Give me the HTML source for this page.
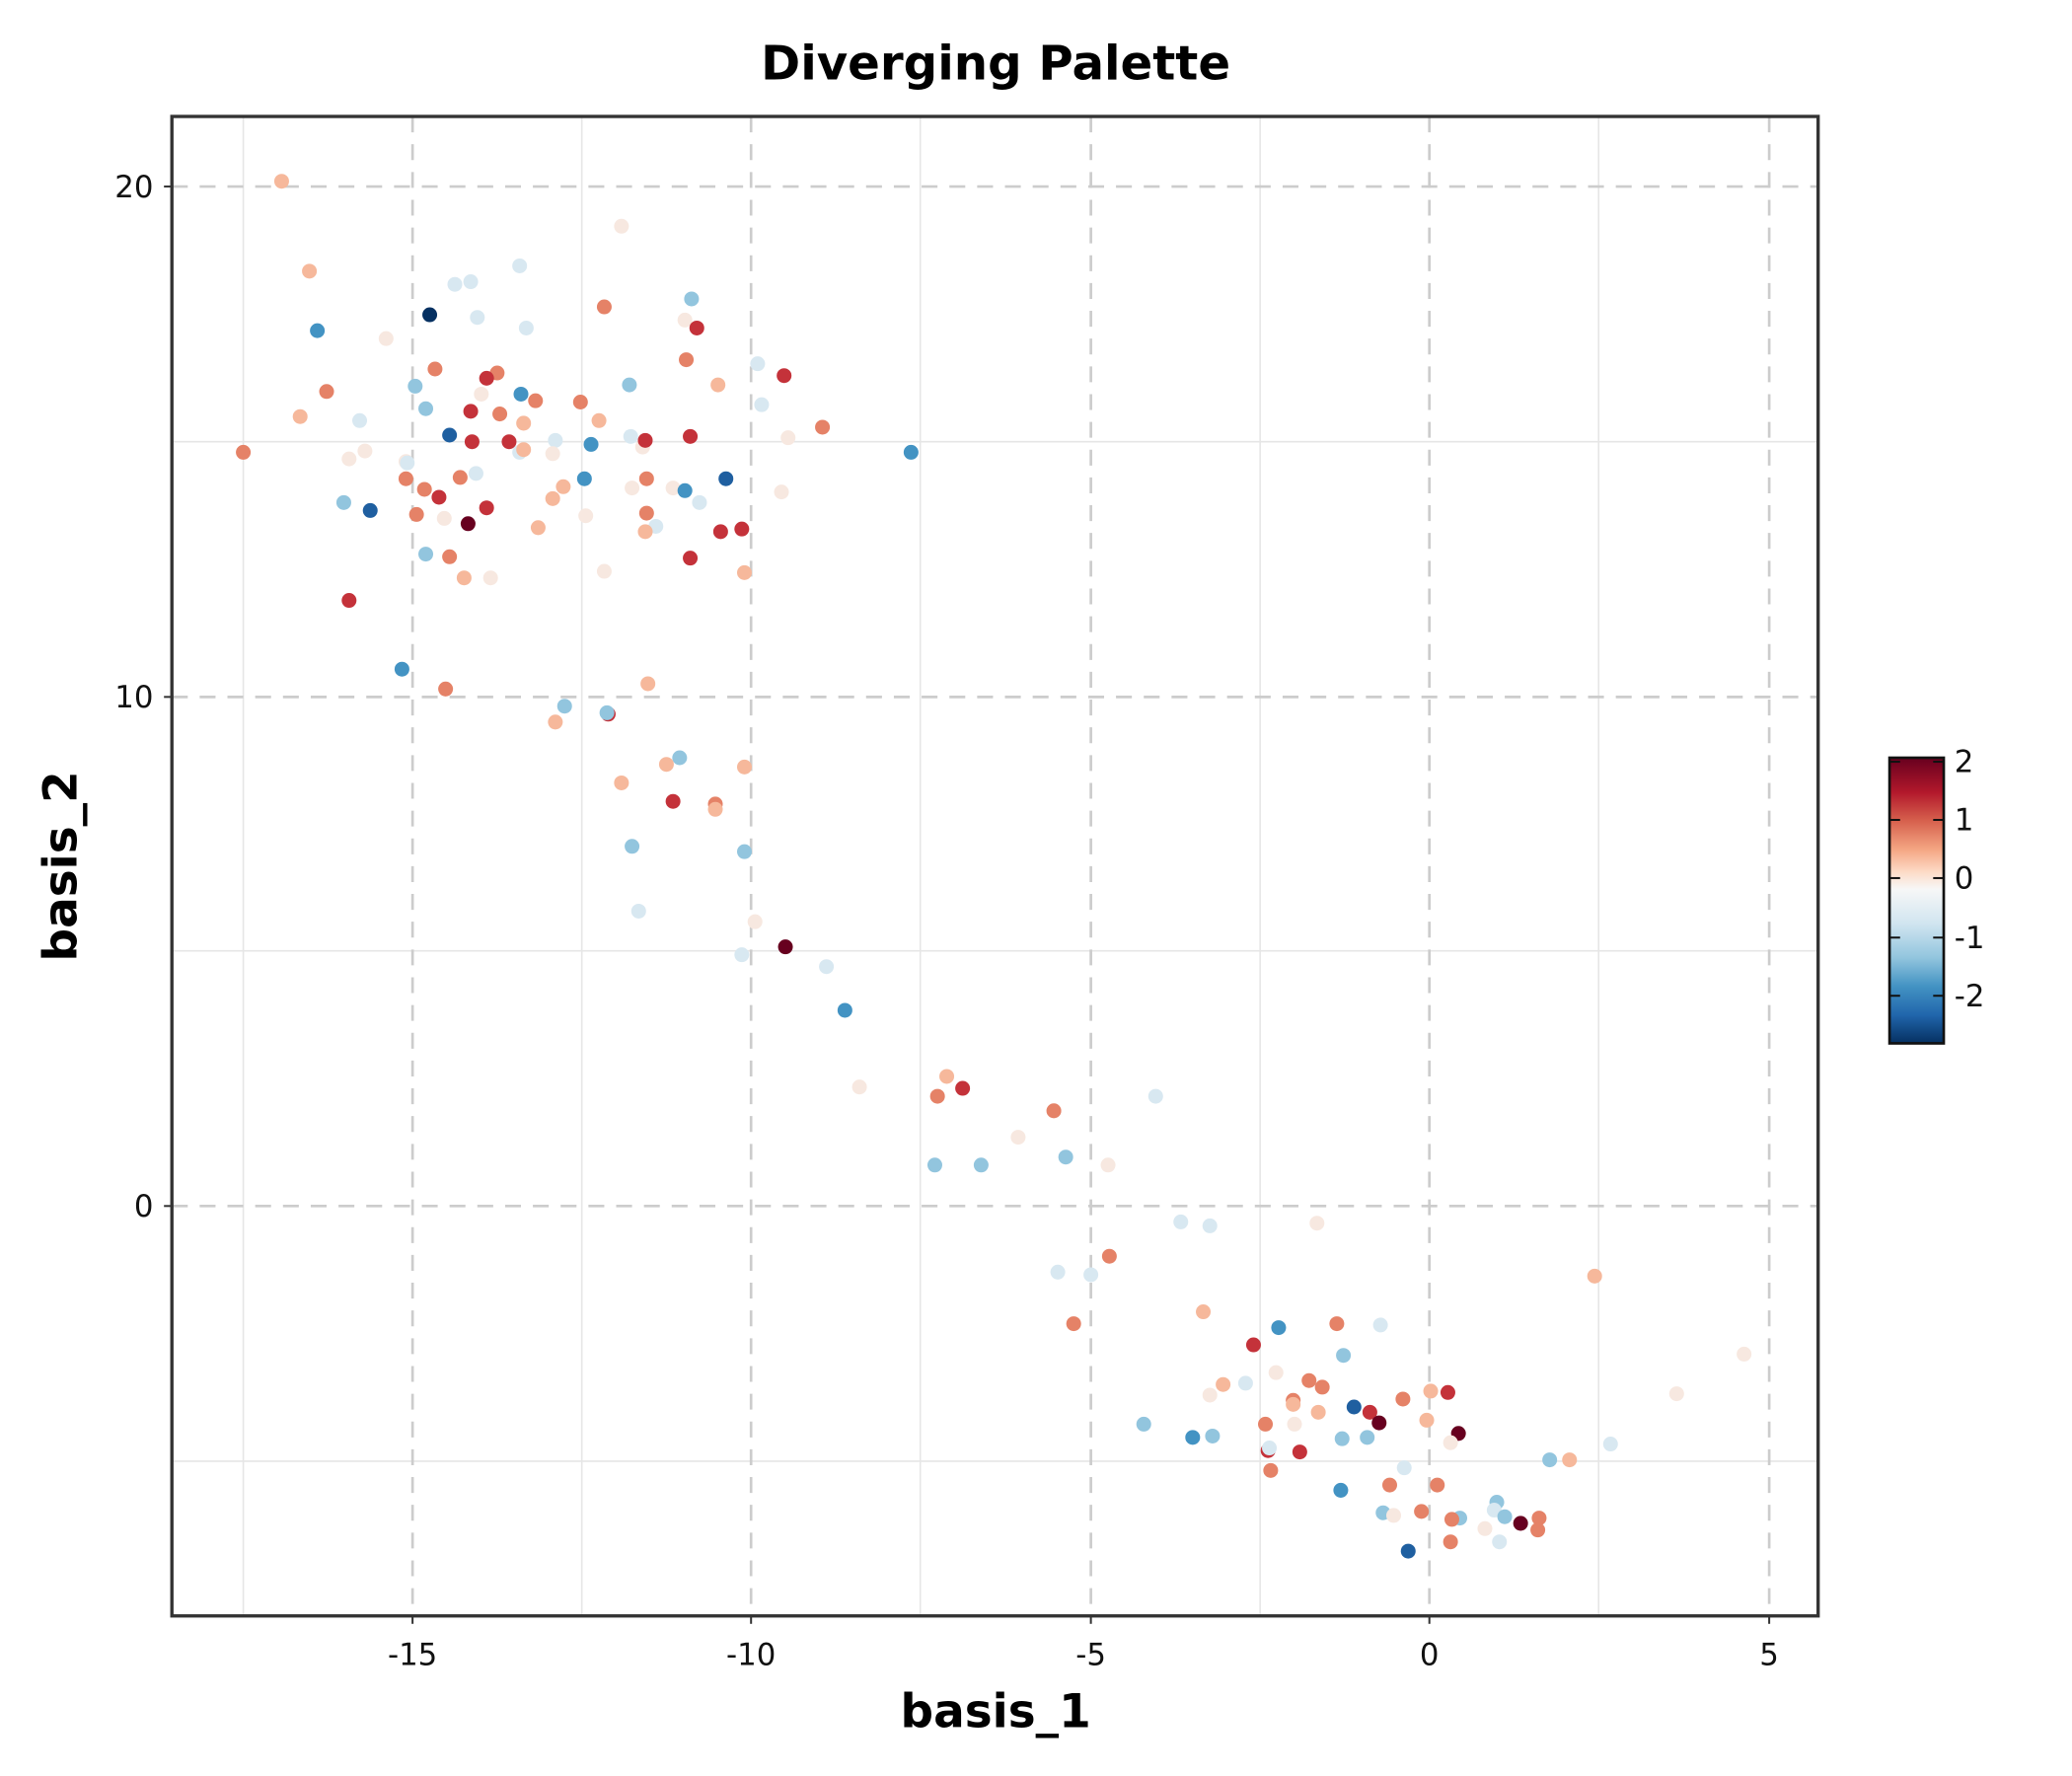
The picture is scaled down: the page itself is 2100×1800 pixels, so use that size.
<!DOCTYPE html>
<html><head><meta charset="utf-8"><style>html,body{margin:0;padding:0;background:#fff}svg{display:block}
.D{fill:#67001f}.R{fill:#c4323a}.O{fill:#e58267}.P{fill:#f6b89b}.W{fill:#f7e8e0}.L{fill:#d8e8f1}.B{fill:#92c5de}.M{fill:#4393c3}.N{fill:#1f5fa0}.K{fill:#053061}
</style></head>
<body>
<svg xmlns="http://www.w3.org/2000/svg" width="2100" height="1800" viewBox="0 0 1567 1343" font-family="'DejaVu Sans','Liberation Sans',sans-serif">
<defs>
<linearGradient id="cb" x1="0" y1="0" x2="0" y2="1">
<stop offset="0" stop-color="#67001f"/><stop offset="0.12" stop-color="#b2182b"/><stop offset="0.22" stop-color="#d6604d"/><stop offset="0.32" stop-color="#f4a582"/><stop offset="0.4" stop-color="#fddbc7"/><stop offset="0.46" stop-color="#f7f7f7"/><stop offset="0.58" stop-color="#d1e5f0"/><stop offset="0.7" stop-color="#92c5de"/><stop offset="0.8" stop-color="#4393c3"/><stop offset="0.9" stop-color="#2166ac"/><stop offset="1" stop-color="#053061"/>
</linearGradient>
</defs>
<rect width="1567" height="1343" fill="#fff"/>
<g stroke="#e6e6e6" stroke-width="1.2">
<line x1="184" y1="88" x2="184" y2="1222"/><line x1="440" y1="88" x2="440" y2="1222"/><line x1="696" y1="88" x2="696" y2="1222"/><line x1="953" y1="88" x2="953" y2="1222"/><line x1="1209" y1="88" x2="1209" y2="1222"/>
<line x1="130" y1="334" x2="1375" y2="334"/><line x1="130" y1="719" x2="1375" y2="719"/><line x1="130" y1="1105" x2="1375" y2="1105"/>
</g>
<g stroke="#cccccc" stroke-width="2" stroke-dasharray="12,9">
<line x1="312" y1="88" x2="312" y2="1222"/><line x1="568" y1="88" x2="568" y2="1222"/><line x1="825" y1="88" x2="825" y2="1222"/><line x1="1081" y1="88" x2="1081" y2="1222"/><line x1="1338" y1="88" x2="1338" y2="1222"/>
<line x1="130" y1="141" x2="1375" y2="141"/><line x1="130" y1="527" x2="1375" y2="527"/><line x1="130" y1="912" x2="1375" y2="912"/>
</g>
<g>
<circle cx="213" cy="137" r="5.6" class="P"/><circle cx="470" cy="171" r="5.6" class="W"/><circle cx="234" cy="205" r="5.6" class="P"/><circle cx="393" cy="201" r="5.6" class="L"/><circle cx="344" cy="215" r="5.6" class="L"/><circle cx="356" cy="213" r="5.6" class="L"/><circle cx="523" cy="226" r="5.6" class="B"/><circle cx="240" cy="250" r="5.6" class="M"/><circle cx="325" cy="238" r="5.6" class="K"/><circle cx="361" cy="240" r="5.6" class="L"/><circle cx="457" cy="232" r="5.6" class="O"/><circle cx="518" cy="242" r="5.6" class="W"/><circle cx="527" cy="248" r="5.6" class="R"/><circle cx="398" cy="248" r="5.6" class="L"/><circle cx="292" cy="256" r="5.6" class="W"/><circle cx="573" cy="275" r="5.6" class="L"/><circle cx="329" cy="279" r="5.6" class="O"/><circle cx="519" cy="272" r="5.6" class="O"/><circle cx="593" cy="284" r="5.6" class="R"/><circle cx="247" cy="296" r="5.6" class="O"/><circle cx="314" cy="292" r="5.6" class="B"/><circle cx="364" cy="298" r="5.6" class="W"/><circle cx="394" cy="298" r="5.6" class="M"/><circle cx="476" cy="291" r="5.6" class="B"/><circle cx="543" cy="291" r="5.6" class="P"/><circle cx="376" cy="282" r="5.6" class="O"/><circle cx="368" cy="286" r="5.6" class="R"/><circle cx="439" cy="304" r="5.6" class="O"/><circle cx="322" cy="309" r="5.6" class="B"/><circle cx="405" cy="303" r="5.6" class="O"/><circle cx="576" cy="306" r="5.6" class="L"/><circle cx="356" cy="311" r="5.6" class="R"/><circle cx="378" cy="313" r="5.6" class="O"/><circle cx="227" cy="315" r="5.6" class="P"/><circle cx="272" cy="318" r="5.6" class="L"/><circle cx="453" cy="318" r="5.6" class="P"/><circle cx="396" cy="320" r="5.6" class="P"/><circle cx="622" cy="323" r="5.6" class="O"/><circle cx="340" cy="329" r="5.6" class="N"/><circle cx="357" cy="334" r="5.6" class="R"/><circle cx="420" cy="333" r="5.6" class="L"/><circle cx="477" cy="330" r="5.6" class="L"/><circle cx="522" cy="330" r="5.6" class="R"/><circle cx="596" cy="331" r="5.6" class="W"/><circle cx="184" cy="342" r="5.6" class="O"/><circle cx="264" cy="347" r="5.6" class="W"/><circle cx="276" cy="341" r="5.6" class="W"/><circle cx="385" cy="334" r="5.6" class="R"/><circle cx="393" cy="342" r="5.6" class="L"/><circle cx="396" cy="340" r="5.6" class="P"/><circle cx="418" cy="343" r="5.6" class="W"/><circle cx="486" cy="338" r="5.6" class="W"/><circle cx="488" cy="333" r="5.6" class="R"/><circle cx="447" cy="336" r="5.6" class="M"/><circle cx="689" cy="342" r="5.6" class="M"/><circle cx="307" cy="349" r="5.6" class="W"/><circle cx="308" cy="350" r="5.6" class="L"/><circle cx="360" cy="358" r="5.6" class="L"/><circle cx="348" cy="361" r="5.6" class="O"/><circle cx="442" cy="362" r="5.6" class="M"/><circle cx="489" cy="362" r="5.6" class="O"/><circle cx="549" cy="362" r="5.6" class="N"/><circle cx="307" cy="362" r="5.6" class="O"/><circle cx="321" cy="370" r="5.6" class="O"/><circle cx="332" cy="376" r="5.6" class="R"/><circle cx="426" cy="368" r="5.6" class="P"/><circle cx="418" cy="377" r="5.6" class="P"/><circle cx="478" cy="369" r="5.6" class="W"/><circle cx="509" cy="369" r="5.6" class="W"/><circle cx="518" cy="371" r="5.6" class="M"/><circle cx="591" cy="372" r="5.6" class="W"/><circle cx="529" cy="380" r="5.6" class="L"/><circle cx="260" cy="380" r="5.6" class="B"/><circle cx="280" cy="386" r="5.6" class="N"/><circle cx="315" cy="389" r="5.6" class="O"/><circle cx="368" cy="384" r="5.6" class="R"/><circle cx="443" cy="390" r="5.6" class="W"/><circle cx="489" cy="388" r="5.6" class="O"/><circle cx="336" cy="392" r="5.6" class="W"/><circle cx="354" cy="396" r="5.6" class="D"/><circle cx="407" cy="399" r="5.6" class="P"/><circle cx="496" cy="398" r="5.6" class="L"/><circle cx="488" cy="402" r="5.6" class="P"/><circle cx="545" cy="402" r="5.6" class="R"/><circle cx="561" cy="400" r="5.6" class="R"/><circle cx="322" cy="419" r="5.6" class="B"/><circle cx="340" cy="421" r="5.6" class="O"/><circle cx="522" cy="422" r="5.6" class="R"/><circle cx="351" cy="437" r="5.6" class="P"/><circle cx="371" cy="437" r="5.6" class="W"/><circle cx="563" cy="433" r="5.6" class="P"/><circle cx="457" cy="432" r="5.6" class="W"/><circle cx="264" cy="454" r="5.6" class="R"/><circle cx="304" cy="506" r="5.6" class="M"/><circle cx="337" cy="521" r="5.6" class="O"/><circle cx="490" cy="517" r="5.6" class="P"/><circle cx="427" cy="534" r="5.6" class="B"/><circle cx="420" cy="546" r="5.6" class="P"/><circle cx="460" cy="540" r="5.6" class="R"/><circle cx="459" cy="539" r="5.6" class="B"/><circle cx="514" cy="573" r="5.6" class="B"/><circle cx="504" cy="578" r="5.6" class="P"/><circle cx="563" cy="580" r="5.6" class="P"/><circle cx="470" cy="592" r="5.6" class="P"/><circle cx="509" cy="606" r="5.6" class="R"/><circle cx="541" cy="608" r="5.6" class="O"/><circle cx="541" cy="612" r="5.6" class="P"/><circle cx="478" cy="640" r="5.6" class="B"/><circle cx="563" cy="644" r="5.6" class="B"/><circle cx="483" cy="689" r="5.6" class="L"/><circle cx="571" cy="697" r="5.6" class="W"/><circle cx="561" cy="722" r="5.6" class="L"/><circle cx="594" cy="716" r="5.6" class="D"/><circle cx="625" cy="731" r="5.6" class="L"/><circle cx="639" cy="764" r="5.6" class="M"/><circle cx="650" cy="822" r="5.6" class="W"/><circle cx="716" cy="814" r="5.6" class="P"/><circle cx="728" cy="823" r="5.6" class="R"/><circle cx="709" cy="829" r="5.6" class="O"/><circle cx="797" cy="840" r="5.6" class="O"/><circle cx="770" cy="860" r="5.6" class="W"/><circle cx="806" cy="875" r="5.6" class="B"/><circle cx="707" cy="881" r="5.6" class="B"/><circle cx="742" cy="881" r="5.6" class="B"/><circle cx="838" cy="881" r="5.6" class="W"/><circle cx="874" cy="829" r="5.6" class="L"/><circle cx="893" cy="924" r="5.6" class="L"/><circle cx="915" cy="927" r="5.6" class="L"/><circle cx="996" cy="925" r="5.6" class="W"/><circle cx="839" cy="950" r="5.6" class="O"/><circle cx="800" cy="962" r="5.6" class="L"/><circle cx="825" cy="964" r="5.6" class="L"/><circle cx="1206" cy="965" r="5.6" class="P"/><circle cx="910" cy="992" r="5.6" class="P"/><circle cx="812" cy="1001" r="5.6" class="O"/><circle cx="967" cy="1004" r="5.6" class="M"/><circle cx="1011" cy="1001" r="5.6" class="O"/><circle cx="1044" cy="1002" r="5.6" class="L"/><circle cx="1319" cy="1024" r="5.6" class="W"/><circle cx="948" cy="1017" r="5.6" class="R"/><circle cx="1016" cy="1025" r="5.6" class="B"/><circle cx="965" cy="1038" r="5.6" class="W"/><circle cx="925" cy="1047" r="5.6" class="P"/><circle cx="915" cy="1055" r="5.6" class="W"/><circle cx="942" cy="1046" r="5.6" class="L"/><circle cx="990" cy="1044" r="5.6" class="O"/><circle cx="1000" cy="1049" r="5.6" class="O"/><circle cx="1082" cy="1052" r="5.6" class="P"/><circle cx="1095" cy="1053" r="5.6" class="R"/><circle cx="1024" cy="1064" r="5.6" class="N"/><circle cx="1061" cy="1058" r="5.6" class="O"/><circle cx="978" cy="1059" r="5.6" class="O"/><circle cx="978" cy="1062" r="5.6" class="P"/><circle cx="1036" cy="1068" r="5.6" class="R"/><circle cx="1043" cy="1076" r="5.6" class="D"/><circle cx="997" cy="1068" r="5.6" class="P"/><circle cx="1079" cy="1074" r="5.6" class="P"/><circle cx="1268" cy="1054" r="5.6" class="W"/><circle cx="865" cy="1077" r="5.6" class="B"/><circle cx="902" cy="1087" r="5.6" class="M"/><circle cx="917" cy="1086" r="5.6" class="B"/><circle cx="957" cy="1077" r="5.6" class="O"/><circle cx="979" cy="1077" r="5.6" class="W"/><circle cx="1103" cy="1084" r="5.6" class="D"/><circle cx="1015" cy="1088" r="5.6" class="B"/><circle cx="1034" cy="1087" r="5.6" class="B"/><circle cx="1097" cy="1091" r="5.6" class="W"/><circle cx="1218" cy="1092" r="5.6" class="L"/><circle cx="959" cy="1097" r="5.6" class="R"/><circle cx="960" cy="1095" r="5.6" class="L"/><circle cx="983" cy="1098" r="5.6" class="R"/><circle cx="1172" cy="1104" r="5.6" class="B"/><circle cx="1187" cy="1104" r="5.6" class="P"/><circle cx="1062" cy="1110" r="5.6" class="L"/><circle cx="961" cy="1112" r="5.6" class="O"/><circle cx="1051" cy="1123" r="5.6" class="O"/><circle cx="1087" cy="1123" r="5.6" class="O"/><circle cx="1014" cy="1127" r="5.6" class="M"/><circle cx="1132" cy="1136" r="5.6" class="B"/><circle cx="1046" cy="1144" r="5.6" class="B"/><circle cx="1075" cy="1143" r="5.6" class="O"/><circle cx="1054" cy="1146" r="5.6" class="W"/><circle cx="1130" cy="1142" r="5.6" class="L"/><circle cx="1138" cy="1147" r="5.6" class="B"/><circle cx="1104" cy="1148" r="5.6" class="B"/><circle cx="1098" cy="1149" r="5.6" class="O"/><circle cx="1123" cy="1156" r="5.6" class="W"/><circle cx="1164" cy="1148" r="5.6" class="O"/><circle cx="1150" cy="1152" r="5.6" class="D"/><circle cx="1163" cy="1157" r="5.6" class="O"/><circle cx="1097" cy="1166" r="5.6" class="O"/><circle cx="1065" cy="1173" r="5.6" class="N"/><circle cx="1134" cy="1166" r="5.6" class="L"/>
</g>
<rect x="130" y="88" width="1245" height="1134" fill="none" stroke="#333" stroke-width="2.5"/>
<g stroke="#333" stroke-width="1.5">
<line x1="312" y1="1222" x2="312" y2="1228"/><line x1="568" y1="1222" x2="568" y2="1228"/><line x1="825" y1="1222" x2="825" y2="1228"/><line x1="1081" y1="1222" x2="1081" y2="1228"/><line x1="1338" y1="1222" x2="1338" y2="1228"/>
<line x1="124" y1="141" x2="130" y2="141"/><line x1="124" y1="527" x2="130" y2="527"/><line x1="124" y1="912" x2="130" y2="912"/>
</g>
<g font-size="23" fill="#111" text-anchor="middle">
<text x="312" y="1259">-15</text><text x="568" y="1259">-10</text><text x="825" y="1259">-5</text><text x="1081" y="1259">0</text><text x="1338" y="1259">5</text>
</g>
<g font-size="23" fill="#111" text-anchor="end">
<text x="116" y="149">20</text><text x="116" y="535">10</text><text x="116" y="920">0</text>
</g>
<text x="753" y="60" font-size="36" font-weight="bold" text-anchor="middle">Diverging Palette</text>
<text x="753" y="1306" font-size="35" font-weight="bold" text-anchor="middle">basis_1</text>
<text transform="translate(58,655) rotate(-90)" font-size="35" font-weight="bold" text-anchor="middle">basis_2</text>
<rect x="1429" y="573" width="41" height="216" fill="url(#cb)" stroke="#111" stroke-width="2"/>
<g stroke="#111" stroke-width="1.5">
<line x1="1429" y1="576" x2="1437" y2="576"/><line x1="1462" y1="576" x2="1470" y2="576"/>
<line x1="1429" y1="620" x2="1437" y2="620"/><line x1="1462" y1="620" x2="1470" y2="620"/>
<line x1="1429" y1="664" x2="1437" y2="664"/><line x1="1462" y1="664" x2="1470" y2="664"/>
<line x1="1429" y1="709" x2="1437" y2="709"/><line x1="1462" y1="709" x2="1470" y2="709"/>
<line x1="1429" y1="753" x2="1437" y2="753"/><line x1="1462" y1="753" x2="1470" y2="753"/>
</g>
<g font-size="23" fill="#111">
<text x="1478" y="584">2</text><text x="1478" y="628">1</text><text x="1478" y="672">0</text><text x="1478" y="717">-1</text><text x="1478" y="761">-2</text>
</g>
</svg>
</body></html>
